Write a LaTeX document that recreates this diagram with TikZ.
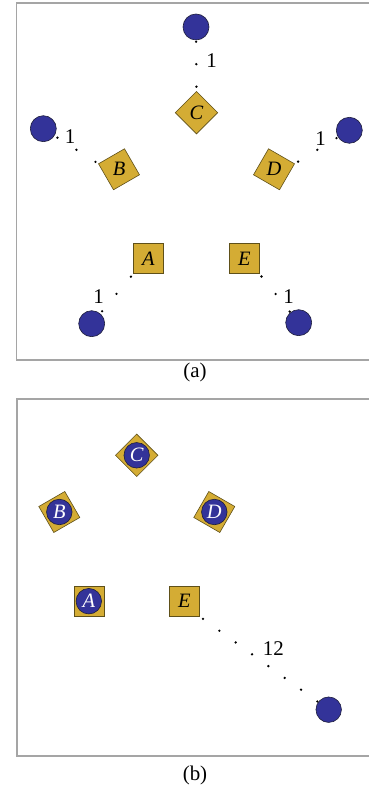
\documentclass[tikz,border=0pt]{standalone}
\usepackage{fontspec}
\setmainfont{Liberation Serif}
\definecolor{gold}{RGB}{212,172,52}
\definecolor{goldedge}{RGB}{95,80,25}
\definecolor{dblue}{RGB}{51,51,153}
\definecolor{balledge}{RGB}{30,30,60}
\definecolor{framegray}{RGB}{165,165,165}
\begin{document}
\begin{tikzpicture}[x=1bp,y=1bp,
  tile/.style={draw=goldedge, line width=0.6bp, fill=gold, minimum size=30bp, inner sep=0pt, outer sep=0pt},
  ball/.style={circle, draw=balledge, line width=0.6bp, fill=dblue, minimum size=26bp, inner sep=0pt, outer sep=0pt},
  inball/.style={ball, minimum size=25.5bp},
  letter/.style={font=\fontsize{20.5}{24}\selectfont\itshape, inner sep=0pt},
  wletter/.style={letter, text=white},
  num/.style={font=\fontsize{21}{25}\selectfont, inner sep=0pt},
  dotline/.style={line width=2.6bp, line cap=round, dash pattern=on 0pt off #1},
  dotline/.default=22.5bp,
  framebox/.style={draw=framegray, line width=1.2bp}]
\useasboundingbox (0,0) rectangle (368,789);
\fill[white] (0,0) rectangle (368,789);
% frames
\draw[framebox] (372,786) -- (16.7,786) -- (16.7,429) -- (372,429);
\draw[framebox] (372,390) -- (17,390) -- (17,33) -- (372,33);
% ---------- (a) ----------
\node[tile, rotate=45] (C) at (196.5,676.3) {};
\node[letter] (lC) at (C.center) {C};
\node[tile, rotate=30] (B) at (119,619.7) {};
\node[letter] (lB) at (B.center) {B};
\node[tile, rotate=-30] (D) at (274,619.7) {};
\node[letter] (lD) at (D.center) {D};
\node[tile] (A) at (148.3,530.2) {};
\node[letter] (lA) at (A.center) {A};
\node[tile] (E) at (244.3,530.2) {};
\node[letter] (lE) at (E.center) {E};
\node[ball] (cC) at (196,762) {};
\node[ball] (cB) at (43.3,660.3) {};
\node[ball] (cD) at (349.3,658.7) {};
\node[ball] (cA) at (91.7,465.3) {};
\node[ball] (cE) at (298.7,466.3) {};
\draw[dotline, shorten <=1.7bp] (cC) -- (C.north east);
\draw[dotline, shorten <=3.8bp] (cB) -- (B.north west);
\draw[dotline, shorten <=2bp] (cD) -- (D.north east);
\draw[dotline, shorten <=3.7bp, shorten >=11bp] (A.south west) -- (cA.center);
\draw[dotline, shorten <=3.5bp, shorten >=11bp] (E.south east) -- (cE.center);
\node[num] (nC) at (211.7,728.3) {1};
\node[num] (nB) at (70,652.3) {1};
\node[num] (nD) at (320.7,650.7) {1};
\node[num] (nA) at (98.7,492.3) {1};
\node[num] (nE) at (288.7,492.3) {1};
\node[num] (capa) at (195,416.3) {(a)};
% ---------- (b) ----------
\node[tile, rotate=45] (C2) at (136.7,333.7) {};
\node[inball] (cC2) at (C2.center) {};
\node[wletter] (lC2) at (C2.center) {C};
\node[tile, rotate=30] (B2) at (59.3,277) {};
\node[inball] (cB2) at (B2.center) {};
\node[wletter] (lB2) at (B2.center) {B};
\node[tile, rotate=-30] (D2) at (214.3,277) {};
\node[inball] (cD2) at (D2.center) {};
\node[wletter] (lD2) at (D2.center) {D};
\node[tile] (A2) at (88.8,187.8) {};
\node[inball] (cA2) at (A2.center) {};
\node[wletter] (lA2) at (A2.center) {A};
\node[tile] (E2) at (184.3,187.8) {};
\node[letter] (lE2) at (E2.center) {E};
\node[ball, minimum size=25.5bp] (cX) at (328.7,79.3) {};
\draw[dotline=20.15bp, shorten <=4.6bp, shorten >=12bp] (E2.south east) -- (cX.center);
\node[num] (n12) at (273.3,140.7) {12};
\node[num] (capb) at (195,14) {(b)};
\end{tikzpicture}
\end{document}
